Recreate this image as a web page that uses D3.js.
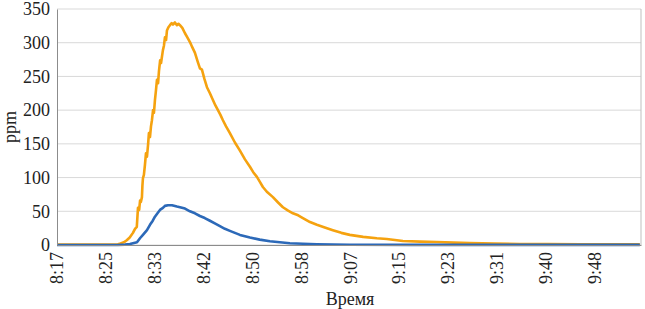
<!DOCTYPE html>
<html>
<head>
<meta charset="utf-8">
<style>
    body { margin: 0; background: #fff; }
    text { font-family: "Liberation Serif", "DejaVu Serif", serif; fill: #222; }
</style>
</head>
<body>
<svg width="645" height="309"></svg>
<script src="https://d3js.org/d3.v7.min.js"></script>
<script>
    // minutes elapsed since 8:17
    var orangeT = [0, 7.3, 10.3, 10.65, 11.3, 11.8, 12.3, 12.85, 13.2, 13.5, 13.6, 13.7, 13.9, 14.05, 14.2, 14.37, 14.45, 14.54, 14.7, 14.88, 15.05, 15.22, 15.4, 15.55, 15.73, 15.9, 16.06, 16.25, 16.4, 16.57, 16.75, 16.91, 17.1, 17.25, 17.45, 17.6, 17.92, 18.1, 18.26, 18.45, 18.6, 18.85, 19.11, 19.4, 19.62, 19.95, 20.29, 20.55, 20.8, 21.2, 21.65, 22.05, 22.49, 22.9, 23.34, 23.8, 24.18, 24.52, 24.95, 25.37, 25.87, 26.38, 26.8, 27.23, 27.65, 28.07, 28.6, 29.25, 30.1, 30.95, 31.8, 32.64, 33.2, 33.82, 34.3, 34.83, 35.5, 36.53, 37.4, 38.22, 39.1, 39.91, 40.8, 41.6, 42.8, 43.97, 45.3, 46.67, 48.1, 49.54, 51.8, 54.11, 55.8, 58.51, 61.4, 64.26, 67.1, 69.84, 74.0, 78.29, 83.0, 88.5, 93.6, 98.6];
    var orangeV = [0.5, 0.5, 1, 2, 4, 7, 11, 18, 24, 27, 41, 55, 52, 66, 64, 71, 88, 99, 104, 119, 136, 131, 148, 166, 160, 176, 185, 200, 196, 215, 230, 245, 240, 258, 274, 270, 289, 296, 308, 304, 318, 323, 326, 329, 327, 330, 326, 328, 326, 322, 314, 308, 301, 293, 285, 272, 262, 260, 246, 234, 225, 215, 207, 200, 193, 185, 176, 166, 152, 140, 127, 116, 108, 101, 94, 86, 79, 71, 63, 56, 51, 47, 44, 40, 34, 30, 26, 22, 18, 15, 12, 10, 9, 6, 5, 4.5, 3.5, 3, 2, 1.5, 1.5, 1, 1, 1];

    var blueT = [0, 10.3, 11.5, 12.34, 13.53, 14.04, 14.54, 15.22, 15.73, 16.2, 16.57, 17.0, 17.42, 17.92, 18.26, 18.77, 19.45, 20.29, 20.8, 21.65, 22.49, 23.34, 24.18, 25.0, 25.87, 26.7, 27.56, 28.4, 29.25, 30.95, 32.64, 34.3, 36.02, 37.7, 39.4, 41.6, 43.97, 46.7, 49.54, 60, 75, 98.6];
    var blueV = [0, 0, 0.5, 1.5, 4, 10, 15, 22, 30, 36, 42, 47, 52, 55, 58, 59, 59, 57, 56, 54, 50, 47, 43, 40, 36, 32, 28, 24, 21, 15, 11, 8, 5.5, 4, 2.5, 1.8, 1, 0.6, 0.3, 0.2, 0.2, 0.2];

    var tickLabels = ["8:17", "8:25", "8:33", "8:42", "8:50", "8:58", "9:07", "9:15", "9:23", "9:31", "9:40", "9:48"];
    var tickStep = 8.27;   // minutes between labelled categories
    var yTicks = [0, 50, 100, 150, 200, 250, 300, 350];

    var svg = d3.select("svg"),
        margin = {top: 9, right: 4, bottom: 64, left: 57},
        width = +svg.attr("width") - margin.left - margin.right,
        height = +svg.attr("height") - margin.top - margin.bottom,
        g = svg.append("g").attr("transform", "translate(" + margin.left + "," + margin.top + ")");

    var x = d3.scaleLinear().domain([0, 98.8]).range([0, width]);
    var y = d3.scaleLinear().domain([0, 350]).range([height, 0]);

    // grid
    g.append("g")
        .selectAll("line")
        .data(yTicks)
        .enter().append("line")
        .attr("x1", 0)
        .attr("x2", width)
        .attr("y1", function(d) { return y(d); })
        .attr("y2", function(d) { return y(d); })
        .attr("stroke", "#d9d9d9")
        .attr("stroke-width", 1);

    // right border of plot
    g.append("line")
        .attr("x1", width).attr("x2", width)
        .attr("y1", 0).attr("y2", height)
        .attr("stroke", "#bfbfbf");

    var line = d3.line()
        .x(function(d) { return x(d[0]); })
        .y(function(d) { return y(d[1]); });

    g.append("path")
        .datum(orangeT.map(function(t, i) { return [t, orangeV[i]]; }))
        .attr("fill", "none")
        .attr("stroke", "#f5a20f")
        .attr("stroke-width", 2.6)
        .attr("stroke-linejoin", "round")
        .attr("d", line);

    g.append("path")
        .datum(blueT.map(function(t, i) { return [t, blueV[i]]; }))
        .attr("fill", "none")
        .attr("stroke", "#2c69b8")
        .attr("stroke-width", 2.6)
        .attr("stroke-linejoin", "round")
        .attr("d", line);

    // y axis
    var yAxis = g.append("g")
        .call(d3.axisLeft(y).tickValues(yTicks).tickSize(0).tickPadding(7));
    yAxis.select(".domain").attr("stroke", "#8c8c8c");
    yAxis.selectAll("text").attr("font-size", 18).attr("font-family", "Liberation Serif").attr("fill", "#222");

    // x axis
    var xAxis = g.append("g")
        .attr("transform", "translate(0," + height + ")")
        .call(d3.axisBottom(x)
            .tickValues(tickLabels.map(function(d, i) { return i * tickStep; }))
            .tickFormat(function(d, i) { return tickLabels[i]; })
            .tickSize(0));
    xAxis.select(".domain").attr("stroke", "#8c8c8c");
    xAxis.selectAll("text")
        .attr("font-size", 18)
        .attr("font-family", "Liberation Serif")
        .attr("fill", "#222")
        .attr("text-anchor", "end")
        .attr("transform", "rotate(-90)")
        .attr("x", -7)
        .attr("y", 0)
        .attr("dy", "0.32em");

    svg.append("text")
        .attr("x", margin.left + width / 2 + 1)
        .attr("y", 305)
        .attr("text-anchor", "middle")
        .attr("font-size", 18)
        .text("Время");

    svg.append("text")
        .attr("transform", "translate(16," + (margin.top + height / 2) + ") rotate(-90)")
        .attr("text-anchor", "middle")
        .attr("font-size", 18)
        .text("ppm");
</script>
</body>
</html>
